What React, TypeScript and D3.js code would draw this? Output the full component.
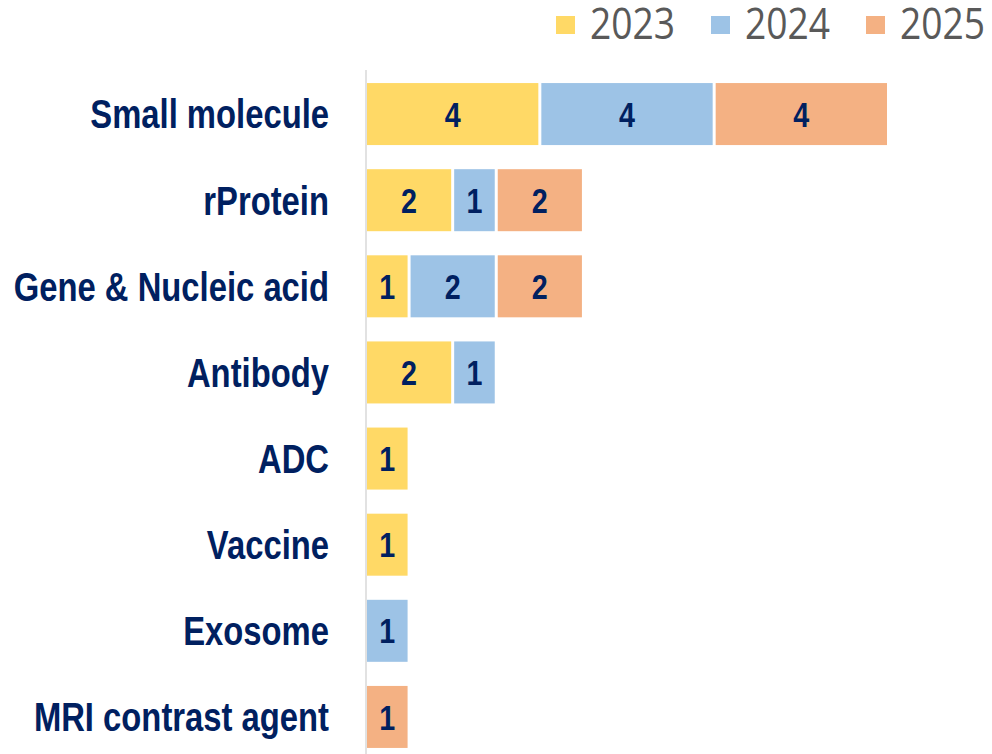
import React from "react";
import * as d3 from "d3";

const categories = [
  "Small molecule",
  "rProtein",
  "Gene & Nucleic acid",
  "Antibody",
  "ADC",
  "Vaccine",
  "Exosome",
  "MRI contrast agent",
];
const years = ["2023", "2024", "2025"];
const values2023 = [4, 2, 1, 2, 1, 1, 0, 0];
const values2024 = [4, 1, 2, 1, 0, 0, 1, 0];
const values2025 = [4, 2, 2, 0, 0, 0, 0, 1];
const colors = ["#FFD966", "#9DC3E6", "#F4B183"];

const W = 992;
const H = 754;
const BOLD = "'Liberation Sans', Arial, sans-serif";
const SQ = 0.82;

export default function App() {
  const rows = categories.map((c, i) => ({
    cat: c,
    "2023": values2023[i],
    "2024": values2024[i],
    "2025": values2025[i],
  }));
  const stack = d3.stack<any>().keys(years);
  const series = stack(rows);

  const x = d3.scaleLinear().domain([0, 12]).range([365.5, 888.5]);
  const y = d3
    .scaleBand()
    .domain(categories)
    .range([71, 760])
    .paddingInner(0.28)
    .paddingOuter(0.14);

  const legendX = [556, 711, 866];

  return (
    <svg
      width={W}
      height={H}
      style={{ position: "absolute", left: 0, top: 0, background: "#fff" }}
    >
      <line x1={366} x2={366} y1={70} y2={H} stroke="#d9d9d9" strokeWidth={1.5} />
      {categories.map((c) => (
        <text
          key={c}
          transform={`translate(329,${(y(c) ?? 0) + y.bandwidth() / 2}) scale(${SQ},1)`}
          dy="0.36em"
          textAnchor="end"
          fontFamily={BOLD}
          fontWeight="bold"
          fontSize={40}
          fill="#002060"
        >
          {c}
        </text>
      ))}
      {series.map((s, si) =>
        s.map((d, i) => {
          const v = d[1] - d[0];
          if (v <= 0) return null;
          const x0 = x(d[0]) + 1.5;
          const w = x(d[1]) - x(d[0]) - 3;
          const yy = y(categories[i]) ?? 0;
          return (
            <g key={`${si}-${i}`}>
              <rect x={x0} y={yy} width={w} height={y.bandwidth()} fill={colors[si]} />
              <text
                transform={`translate(${x0 + w / 2},${yy + y.bandwidth() / 2}) scale(${SQ},1)`}
                dy="0.36em"
                textAnchor="middle"
                fontFamily={BOLD}
                fontWeight="bold"
                fontSize={35}
                fill="#002060"
              >
                {v}
              </text>
            </g>
          );
        })
      )}
      {years.map((yr, i) => (
        <g key={yr}>
          <rect x={legendX[i]} y={16} width={19} height={18} fill={colors[i]} />
          <text
            transform={`translate(${legendX[i] + 34},39) scale(0.845,1)`}
            fontFamily="'Open Sans', sans-serif"
            fontSize={44}
            fill="#595959"
          >
            {yr}
          </text>
        </g>
      ))}
    </svg>
  );
}
